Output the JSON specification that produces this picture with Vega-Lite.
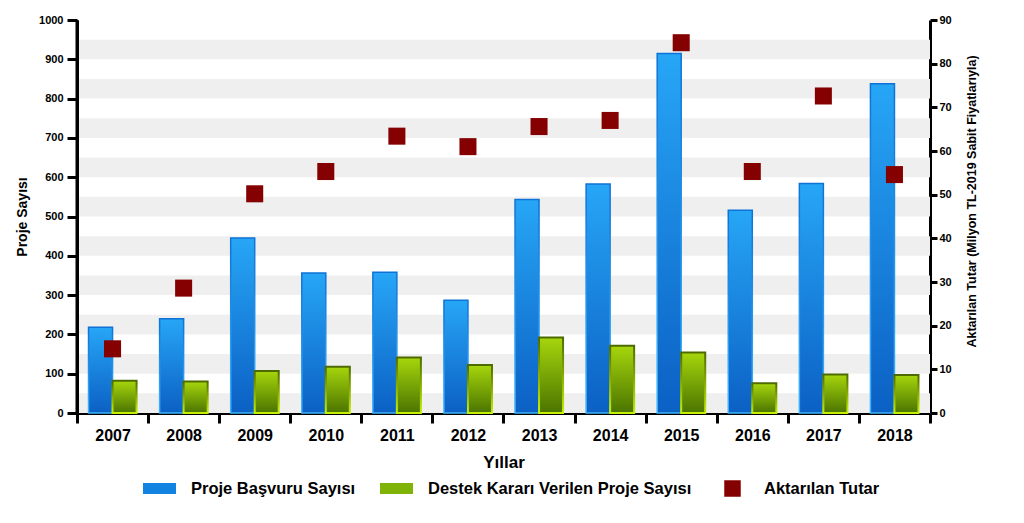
{
  "$schema": "https://vega.github.io/schema/vega-lite/v6.json",
  "width": 853,
  "height": 393,
  "autosize": {"type": "none"},
  "padding": {"left": 77, "top": 20, "right": 94, "bottom": 110},
  "background": "white",
  "config": {
    "view": {"stroke": null},
    "font": "Liberation Sans",
    "axis": {
      "labelFont": "Liberation Sans",
      "titleFont": "Liberation Sans",
      "labelFontWeight": "bold",
      "titleFontWeight": "bold",
      "labelColor": "black",
      "titleColor": "black",
      "domain": true,
      "domainColor": "black",
      "tickColor": "black",
      "domainWidth": 3,
      "tickWidth": 3,
      "grid": false,
      "zindex": 1
    },
    "legend": {
      "labelFont": "Liberation Sans",
      "labelFontWeight": "bold",
      "labelFontSize": 16.5,
      "labelColor": "black"
    }
  },
  "datasets": {
    "main": [
      {"year": "2007", "series": "Proje Başvuru Sayısı", "value": 218},
      {"year": "2008", "series": "Proje Başvuru Sayısı", "value": 240},
      {"year": "2009", "series": "Proje Başvuru Sayısı", "value": 445},
      {"year": "2010", "series": "Proje Başvuru Sayısı", "value": 356},
      {"year": "2011", "series": "Proje Başvuru Sayısı", "value": 358},
      {"year": "2012", "series": "Proje Başvuru Sayısı", "value": 287},
      {"year": "2013", "series": "Proje Başvuru Sayısı", "value": 543},
      {"year": "2014", "series": "Proje Başvuru Sayısı", "value": 583},
      {"year": "2015", "series": "Proje Başvuru Sayısı", "value": 915},
      {"year": "2016", "series": "Proje Başvuru Sayısı", "value": 516},
      {"year": "2017", "series": "Proje Başvuru Sayısı", "value": 584},
      {"year": "2018", "series": "Proje Başvuru Sayısı", "value": 838},
      {"year": "2007", "series": "Destek Kararı Verilen Proje Sayısı", "value": 82},
      {"year": "2008", "series": "Destek Kararı Verilen Proje Sayısı", "value": 80},
      {"year": "2009", "series": "Destek Kararı Verilen Proje Sayısı", "value": 107},
      {"year": "2010", "series": "Destek Kararı Verilen Proje Sayısı", "value": 118},
      {"year": "2011", "series": "Destek Kararı Verilen Proje Sayısı", "value": 141},
      {"year": "2012", "series": "Destek Kararı Verilen Proje Sayısı", "value": 122},
      {"year": "2013", "series": "Destek Kararı Verilen Proje Sayısı", "value": 192},
      {"year": "2014", "series": "Destek Kararı Verilen Proje Sayısı", "value": 171},
      {"year": "2015", "series": "Destek Kararı Verilen Proje Sayısı", "value": 154},
      {"year": "2016", "series": "Destek Kararı Verilen Proje Sayısı", "value": 76},
      {"year": "2017", "series": "Destek Kararı Verilen Proje Sayısı", "value": 98},
      {"year": "2018", "series": "Destek Kararı Verilen Proje Sayısı", "value": 97},
      {"year": "2007", "series": "Aktarılan Tutar", "value": 14.7},
      {"year": "2008", "series": "Aktarılan Tutar", "value": 28.6},
      {"year": "2009", "series": "Aktarılan Tutar", "value": 50.2},
      {"year": "2010", "series": "Aktarılan Tutar", "value": 55.3},
      {"year": "2011", "series": "Aktarılan Tutar", "value": 63.4},
      {"year": "2012", "series": "Aktarılan Tutar", "value": 61.0},
      {"year": "2013", "series": "Aktarılan Tutar", "value": 65.6},
      {"year": "2014", "series": "Aktarılan Tutar", "value": 67.0},
      {"year": "2015", "series": "Aktarılan Tutar", "value": 84.8},
      {"year": "2016", "series": "Aktarılan Tutar", "value": 55.3},
      {"year": "2017", "series": "Aktarılan Tutar", "value": 72.6},
      {"year": "2018", "series": "Aktarılan Tutar", "value": 54.6}
    ],
    "bands": [
      {"lo": 0, "hi": 50}, {"lo": 100, "hi": 150}, {"lo": 200, "hi": 250},
      {"lo": 300, "hi": 350}, {"lo": 400, "hi": 450}, {"lo": 500, "hi": 550},
      {"lo": 600, "hi": 650}, {"lo": 700, "hi": 750}, {"lo": 800, "hi": 850},
      {"lo": 900, "hi": 950}
    ]
  },
  "encoding": {
    "x": {
      "field": "year",
      "type": "ordinal",
      "scale": {"paddingInner": 0, "paddingOuter": 0},
      "axis": {
        "title": "Yıllar",
        "titleFontSize": 17,
        "titlePadding": 11,
        "labelFontSize": 16,
        "labelAngle": 0,
        "labelPadding": 4,
        "tickBand": "extent",
        "tickSize": 10
      }
    }
  },
  "layer": [
    {
      "data": {"name": "bands"},
      "mark": {"type": "rect", "color": "#efefef"},
      "encoding": {
        "x": null,
        "y": {
          "field": "lo",
          "type": "quantitative",
          "scale": {"domain": [0, 1000], "nice": false},
          "axis": {
            "orient": "left",
            "title": "Proje Sayısı",
            "titleFontSize": 14,
            "titlePadding": 9,
            "labelFontSize": 11,
            "format": "d",
            "values": [0, 100, 200, 300, 400, 500, 600, 700, 800, 900, 1000],
            "tickSize": 10,
            "labelPadding": 4,
            "zindex": 2
          }
        },
        "y2": {"field": "hi"}
      }
    },
    {
      "data": {"name": "main"},
      "transform": [{"filter": "datum.series === 'Proje Başvuru Sayısı'"}],
      "mark": {
        "type": "bar",
        "strokeWidth": 1.5,
        "fill": {"gradient": "linear", "x1": 0, "y1": 0, "x2": 0, "y2": 1, "stops": [{"offset": 0, "color": "#27a6f6"}, {"offset": 1, "color": "#0b60c4"}]},
        "stroke": {"gradient": "linear", "x1": 0, "y1": 0, "x2": 0, "y2": 1, "stops": [{"offset": 0, "color": "#0e72d6"}, {"offset": 1, "color": "#3cb4ff"}]}
      },
      "encoding": {
        "xOffset": {"field": "series", "type": "nominal", "scale": {"domain": ["Proje Başvuru Sayısı", "Destek Kararı Verilen Proje Sayısı"], "paddingInner": 0, "paddingOuter": 0.48}},
        "y": {"field": "value", "type": "quantitative", "scale": {"domain": [0, 1000], "nice": false}, "axis": null}
      }
    },
    {
      "data": {"name": "main"},
      "transform": [{"filter": "datum.series === 'Destek Kararı Verilen Proje Sayısı'"}],
      "mark": {
        "type": "bar",
        "strokeWidth": 2,
        "fill": {"gradient": "linear", "x1": 0, "y1": 0, "x2": 0, "y2": 1, "stops": [{"offset": 0, "color": "#a6d60c"}, {"offset": 1, "color": "#4b7400"}]},
        "stroke": {"gradient": "linear", "x1": 0, "y1": 0, "x2": 0, "y2": 1, "stops": [{"offset": 0, "color": "#4c6a00"}, {"offset": 1, "color": "#c6f000"}]}
      },
      "encoding": {
        "xOffset": {"field": "series", "type": "nominal", "scale": {"domain": ["Proje Başvuru Sayısı", "Destek Kararı Verilen Proje Sayısı"], "paddingInner": 0, "paddingOuter": 0.48}},
        "y": {"field": "value", "type": "quantitative", "scale": {"domain": [0, 1000], "nice": false}, "axis": null}
      }
    },
    {
      "data": {"name": "bands"},
      "transform": [{"filter": "datum.lo === 0"}],
      "mark": {"type": "rule", "color": "black", "strokeWidth": 3},
      "encoding": {
        "x": {"datum": "2007", "type": "ordinal", "bandPosition": 0},
        "y": {"datum": 0, "type": "quantitative", "scale": {"domain": [0, 1000], "nice": false}, "axis": null},
        "y2": {"datum": 1000}
      }
    },
    {
      "data": {"name": "main"},
      "transform": [{"filter": "datum.series === 'Aktarılan Tutar'"}],
      "mark": {"type": "point", "shape": "square", "filled": true, "opacity": 1, "size": 290},
      "encoding": {
        "y": {
          "field": "value",
          "type": "quantitative",
          "scale": {"domain": [0, 90], "nice": false},
          "axis": {
            "orient": "right",
            "title": "Aktarılan Tutar (Milyon TL-2019 Sabit Fiyatlarıyla)",
            "titleFontSize": 12.5,
            "titleAngle": 270,
            "titlePadding": 27,
            "titleY": 181,
            "labelFontSize": 11,
            "values": [0, 10, 20, 30, 40, 50, 60, 70, 80, 90],
            "tickSize": 7,
            "labelPadding": 2
          }
        },
        "color": {
          "field": "series",
          "type": "nominal",
          "scale": {
            "domain": ["Proje Başvuru Sayısı", "Destek Kararı Verilen Proje Sayısı", "Aktarılan Tutar"],
            "range": ["#1283e0", "#80b308", "#850000"]
          },
          "legend": {
            "title": null,
            "orient": "none",
            "direction": "horizontal",
            "legendX": 66,
            "legendY": 452,
            "labelOffset": 15,
            "labelLimit": 400,
            "columnPadding": 24,
            "symbolSize": 1089,
            "symbolOpacity": 1,
            "symbolStrokeWidth": 0,
            "encode": {
              "symbols": {
                "update": {
                  "shape": {"signal": "datum.value === 'Aktarılan Tutar' ? 'M-0.5,-0.5H0.5V0.5H-0.5Z' : 'M-1,-0.34H1V0.34H-1Z'"},
                  "size": {"value": 1089}
                }
              }
            }
          }
        }
      }
    }
  ],
  "resolve": {"scale": {"y": "independent"}}
}
